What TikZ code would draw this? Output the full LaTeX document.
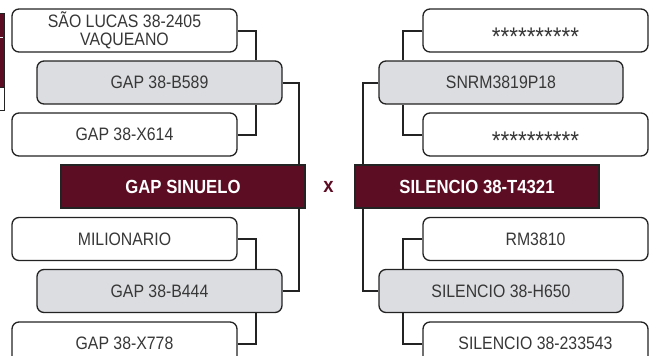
\documentclass[tikz,border=0pt]{standalone}
\usepackage{fontspec}
\setmainfont{Liberation Sans}[FakeStretch=0.88]
\definecolor{vinho}{RGB}{92,13,35}
\definecolor{cinza}{RGB}{220,221,224}
\definecolor{texto}{RGB}{55,55,55}
\definecolor{linha}{RGB}{35,35,35}

\begin{document}
\begin{tikzpicture}[x=1pt,y=-1pt,
    caixa/.style={draw=linha,line width=1.3pt,rounded corners=7pt,fill=white,
        minimum width=225pt,minimum height=43pt,text=texto,
        font=\fontsize{18}{17.5}\selectfont,align=center,inner sep=0pt},
    pai/.style={caixa,fill=cinza,minimum width=245pt},
    touro/.style={draw=linha,line width=1.4pt,fill=vinho,minimum width=244pt,
        minimum height=43pt,text=white,font=\fontsize{19}{19}\selectfont\bfseries,inner sep=0pt},
    oculto/.style={caixa,font=\fontsize{25.5}{25}\selectfont,text height=29pt,text depth=0pt},
    liga/.style={draw=linha,line width=2pt}]
    \useasboundingbox (0,0) rectangle (656,356);
    \clip (0,0) rectangle (656,356);
    %\fill[red] (0,0) rectangle (656,356);
    \draw[fill=vinho,draw=linha,line width=1pt] (-10,13) rectangle (4,87);
    \draw[cinza!60,line width=0.8pt] (-10,37) -- (3,37);
    \draw[fill=white,draw=linha,line width=1pt] (-10,87) rectangle (4,110);

    \coordinate (le1) at (256,0);
    \coordinate (le2) at (299,0);
    \coordinate (ld1) at (403,0);
    \coordinate (ld2) at (363,0);

    \node[pai] (b589) at (159.5,82.5) {GAP 38-B589};
    \node[pai] (b444) at (159.5,291) {GAP 38-B444};
    \node[touro] (sinuelo) at (183,186.5) {GAP SINUELO};
    \node[caixa] (saolucas) at (124.5,30.5) {SÃO LUCAS 38-2405\\VAQUEANO};
    \node[caixa] (x614) at (124.5,134.5) {GAP 38-X614};
    \node[caixa] (milionario) at (124.5,239) {MILIONARIO};
    \node[caixa] (x778) at (124.5,343.5) {GAP 38-X778};
    \draw[liga] (saolucas.east) -| (le1 |- b589.north);
    \draw[liga] (x614.east) -| (le1 |- b589.south);
    \draw[liga] (milionario.east) -| (le1 |- b444.north);
    \draw[liga] (x778.east) -| (le1 |- b444.south);
    \draw[liga] (b589.east) -| (le2 |- sinuelo.north);
    \draw[liga] (b444.east) -| (le2 |- sinuelo.south);

    \node[text=vinho,font=\fontsize{21}{21}\selectfont\bfseries] (vs) at (328.5,186.5) {x};

    \node[pai,minimum width=244pt] (snrm) at (501,82.5) {SNRM3819P18};
    \node[pai,minimum width=244pt] (h650) at (501,291) {SILENCIO 38-H650};
    \node[touro] (t4321) at (477,186.5) {SILENCIO 38-T4321};
    \node[oculto] (est1) at (535.5,30.5) {**********};
    \node[oculto] (est2) at (535.5,134.5) {**********};
    \node[caixa] (rm3810) at (535.5,239) {RM3810};
    \node[caixa] (s233543) at (535.5,343.5) {SILENCIO 38-233543};
    \draw[liga] (est1.west) -| (ld1 |- snrm.north);
    \draw[liga] (est2.west) -| (ld1 |- snrm.south);
    \draw[liga] (rm3810.west) -| (ld1 |- h650.north);
    \draw[liga] (s233543.west) -| (ld1 |- h650.south);
    \draw[liga] (snrm.west) -| (ld2 |- t4321.north);
    \draw[liga] (h650.west) -| (ld2 |- t4321.south);
\end{tikzpicture}
\end{document}
